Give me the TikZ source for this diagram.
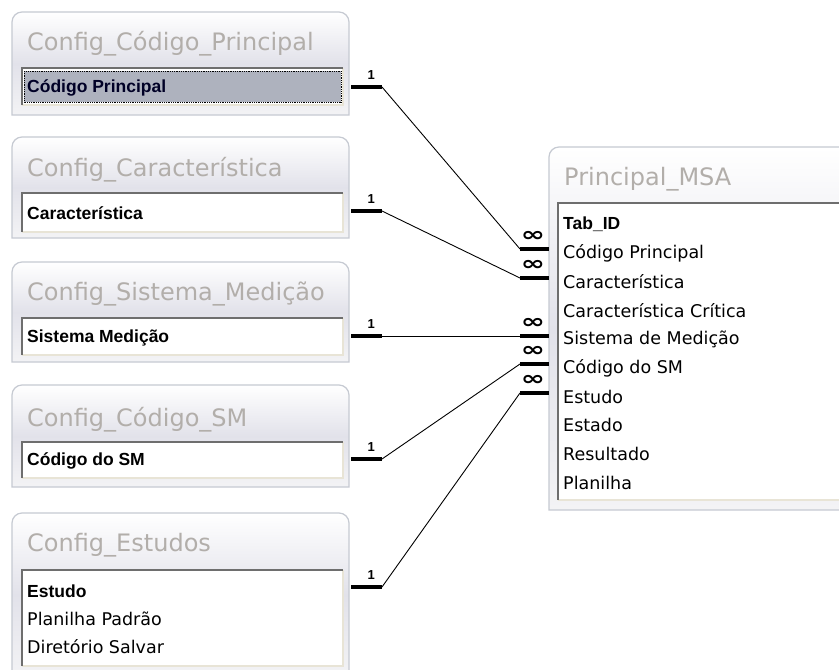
\documentclass[tikz,border=0pt]{standalone}
\usepackage{fontspec}
\setmainfont{DejaVu Sans}
\newfontfamily\barfont{Liberation Sans}
\usetikzlibrary{calc}
\definecolor{ttl}{HTML}{B2AEAA}
\definecolor{frame}{HTML}{C6CAD2}
\definecolor{glass}{HTML}{E2E2EA}
\definecolor{body}{HTML}{F3F3F5}
\definecolor{sunk}{HTML}{6E6E6E}
\definecolor{lite}{HTML}{E8E4D6}
\definecolor{sel}{HTML}{AEB2BE}
\tikzset{
  ttltext/.style={anchor=west, inner sep=0pt, text=ttl, font=\fontsize{24}{24}\selectfont},
  fieldtext/.style={anchor=west, inner sep=0pt, font=\fontsize{17.5}{18}\selectfont},
  keytext/.style={anchor=west, inner sep=0pt, font=\barfont\bfseries\fontsize{17.5}{18}\selectfont},
  endbar/.style={line width=3.6pt},
  relline/.style={line width=0.9pt},
  onelbl/.style={inner sep=0pt, font=\barfont\bfseries\fontsize{13}{13}\selectfont},
  manylbl/.style={inner sep=0pt, font=\bfseries\fontsize{20}{20}\selectfont, xscale=1.45},
}
\newcommand{\outerbox}[4]{% x1 y1 x2 y2
  \shade[top color=white, bottom color=body, middle color=glass]
    (#1,#4) [rounded corners=10] -- (#1,#2) -- (#3,#2) [sharp corners] -- (#3,#4) -- cycle;
  \draw[frame, line width=1.2pt]
    (#1,#4) [rounded corners=10] -- (#1,#2) -- (#3,#2) [sharp corners] -- (#3,#4) -- cycle;}
\newcommand{\fieldbox}[4]{% x1 y1 x2 y2
  \fill[white] (#1,#2) rectangle (#3,#4);
  \draw[lite, line width=1.5pt] (#1,#4) -- (#3,#4) -- (#3,#2);
  \draw[sunk, line width=2pt] (#1,#4) -- (#1,#2) -- (#3,#2);}
\begin{document}
\begin{tikzpicture}[x=1pt,y=-1pt]
\useasboundingbox (0,0) rectangle (839,670);
\clip (0,0) rectangle (839,670);
\fill[white] (0,0) rectangle (839,670);

% ---------- left tables ----------
\outerbox{12}{12}{349}{115}
\fieldbox{22}{68}{343}{105}
\node[ttltext] (t1) at (27,44) {Config\_Código\_Principal};
\fill[sel] (24,71) rectangle (341,102);
\draw[densely dotted, line width=0.8pt] (24,71) rectangle (341,102);
\node[keytext, text=black!85!blue] (r1) at (27,88) {Código Principal};

\outerbox{12}{137}{349}{238}
\fieldbox{22}{193}{343}{232}
\node[ttltext] (t2) at (27,170) {Config\_Característica};
\node[keytext] (r2) at (27,213) {Característica};

\outerbox{12}{262}{349}{362}
\fieldbox{22}{318}{343}{355}
\node[ttltext] (t3) at (27,294) {Config\_Sistema\_Medição};
\node[keytext] (r3) at (27,338) {Sistema Medição};

\outerbox{12}{385}{349}{487}
\fieldbox{22}{442}{343}{478}
\node[ttltext] (t4) at (27,420) {Config\_Código\_SM};
\node[keytext] (r4) at (27,461) {Código do SM};

\outerbox{12}{513}{349}{676}
\fieldbox{22}{570}{343}{666}
\node[ttltext] (t5) at (27,545) {Config\_Estudos};
\node[keytext] (r5) at (27,591) {Estudo};
\node[fieldtext] (r5b) at (27,619) {Planilha Padrão};
\node[fieldtext] (r5c) at (27,647) {Diretório Salvar};

% ---------- main table ----------
\outerbox{549}{147}{860}{510}
\fieldbox{558}{203}{855}{500}
\node[ttltext] (tm) at (564,179) {Principal\_MSA};
\node[keytext] (m0) at (563,224) {Tab\_ID};
\node[fieldtext] (m1) at (563,253) {Código Principal};
\node[fieldtext] (m2) at (563,282) {Característica};
\node[fieldtext] (m3) at (563,311) {Característica Crítica};
\node[fieldtext] (m4) at (563,339) {Sistema de Medição};
\node[fieldtext] (m5) at (563,368) {Código do SM};
\node[fieldtext] (m6) at (563,397) {Estudo};
\node[fieldtext] (m7) at (563,425) {Estado};
\node[fieldtext] (m8) at (563,454) {Resultado};
\node[fieldtext] (m9) at (563,483) {Planilha};

% ---------- relationship ends ----------
\foreach \i/\y in {1/87,2/211,3/336,4/459,5/587}{
  \coordinate (oa\i) at (351,\y);
  \coordinate (ob\i) at (382,\y);
  \draw[endbar] (oa\i) -- (ob\i);
  \node[onelbl] (one\i) at ($(oa\i)!0.65!(ob\i)+(0,-12)$) {1};
}
\foreach \i/\y in {1/249,2/278,3/336,4/364,5/393}{
  \coordinate (ma\i) at (520,\y);
  \coordinate (mb\i) at (549,\y);
  \draw[endbar] (ma\i) -- (mb\i);
  \node[manylbl] (inf\i) at ($(ma\i)!0.45!(mb\i)+(0,-13)$) {∞};
}
\foreach \i in {1,...,5}{
  \draw[relline] (ob\i) -- (ma\i);
}
\end{tikzpicture}
\end{document}
